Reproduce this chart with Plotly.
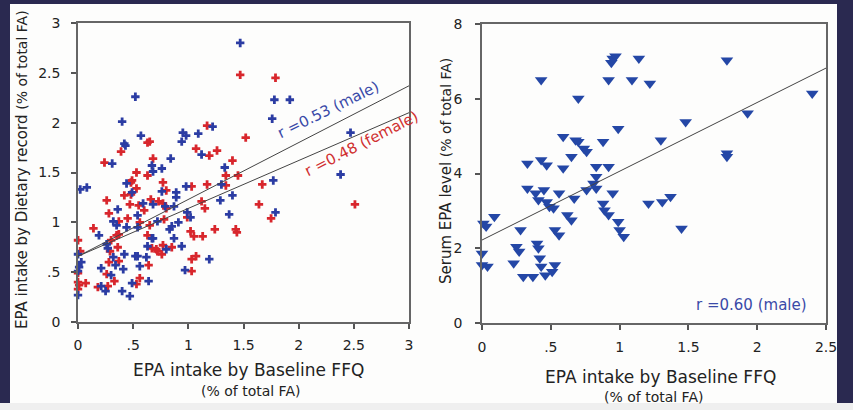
import plotly.graph_objects as go

# ---------------- data ----------------
male_ffq = [1.47,0.52,1.78,1.92,1.76,0.40,2.47,0.95,0.98,1.09,0.57,1.22,0.42,0.43,0.94,1.12,0.84,0.31,2.38,1.33,
            0.68,0.67,0.76,1.77,0.02,0.08,0.44,0.49,0.76,0.98,1.30,1.29,1.40,0.89,0.89,1.79,1.37,0.99,1.02,0.36,
            0.54,0.68,0.59,0.87,0.79,0.32,0.44,0.54,0.83,0.85,0.91,0.19,0.26,0.27,0.67,0.87,0.94,0.00,0.03,0.01,
            0.00,0.00,0.21,0.32,0.42,0.34,0.41,0.52,0.54,0.56,0.62,0.63,0.80,1.19,0.97,0.21,0.25,0.30,0.40,0.47,
            0.49,0.64,0.72,0.68,0.35]
male_diet = [2.80,2.26,2.23,2.23,2.04,2.01,1.90,1.90,1.87,1.89,1.87,1.96,1.79,1.77,1.81,1.68,1.64,1.59,1.48,1.55,
             1.51,1.57,1.54,1.42,1.33,1.35,1.39,1.30,1.31,1.36,1.38,1.22,1.27,1.30,1.25,1.10,1.08,1.10,1.05,1.13,
             1.07,1.18,1.19,1.16,1.16,1.01,0.95,0.95,0.93,0.96,1.00,0.87,0.78,0.74,0.84,0.84,0.76,0.68,0.60,0.55,
             0.51,0.27,0.54,0.65,0.68,0.57,0.53,0.66,0.66,0.56,0.65,0.76,0.73,0.63,0.52,0.36,0.31,0.47,0.31,0.26,
             0.39,0.41,1.01,0.84,0.97]

female_ffq = [1.47,1.79,1.52,1.17,0.39,0.63,0.65,1.07,1.19,1.26,1.40,0.24,0.68,0.53,0.63,1.34,1.45,0.49,0.48,0.77,
              1.17,1.34,1.67,1.03,0.26,0.42,0.47,0.55,0.60,0.66,0.73,0.77,0.80,1.12,1.15,1.64,1.75,2.51,0.28,0.37,
              0.14,0.56,0.65,0.78,1.02,1.24,1.43,1.44,1.05,1.13,0.00,0.30,0.29,0.37,0.36,0.02,0.67,0.71,0.76,0.72,
              0.85,1.03,1.07,0.37,0.28,0.26,0.00,0.00,0.01,0.00,0.07,0.18,0.27,0.33,0.53,0.56,0.64,1.03,0.35,0.77,
              0.63,0.99,0.80,0.53,0.48,0.45]
female_diet = [2.48,2.45,1.85,1.97,1.71,1.80,1.81,1.74,1.67,1.72,1.62,1.60,1.64,1.50,1.47,1.47,1.47,1.42,1.40,1.40,
               1.38,1.37,1.38,1.36,1.22,1.27,1.18,1.17,1.12,1.23,1.21,1.19,1.14,1.21,1.14,1.18,1.04,1.18,1.09,1.01,
               0.94,1.00,0.97,1.03,0.91,0.93,0.93,0.90,0.86,0.86,0.82,0.82,0.71,0.88,0.75,0.71,0.74,0.73,0.68,0.71,
               0.75,0.63,0.66,0.61,0.60,0.48,0.49,0.40,0.37,0.33,0.39,0.35,0.36,0.41,0.38,0.44,0.57,0.51,0.87,0.77,
               0.87,1.05,1.32,1.34,1.28,1.04]

serum_ffq = [0.43,0.70,0.95,0.97,0.94,1.14,0.92,1.09,1.22,1.78,2.40,1.93,1.48,0.99,1.30,1.78,1.78,0.59,0.68,0.70,
             0.88,0.74,0.76,0.65,0.43,0.47,0.33,0.59,0.83,0.92,0.83,0.81,0.76,0.83,0.33,0.39,0.45,0.41,0.47,0.49,
             0.52,0.56,0.67,0.95,0.88,0.89,0.92,0.62,0.65,1.21,1.31,1.37,1.45,0.99,1.00,1.03,0.53,0.56,0.28,0.25,
             0.27,0.23,0.40,0.41,0.42,0.43,0.30,0.37,0.46,0.51,0.53,0.01,0.03,0.09,0.00,0.00,0.04]
serum_epa = [6.50,6.01,7.08,7.14,6.96,7.08,6.50,6.50,6.41,7.03,6.14,5.61,5.38,5.20,4.89,4.54,4.45,4.98,4.89,4.85,
             4.85,4.67,4.58,4.45,4.36,4.22,4.27,4.14,4.18,4.18,3.91,3.73,3.56,3.60,3.60,3.47,3.56,3.29,3.24,3.11,
             3.07,3.47,3.33,3.47,3.20,3.02,2.89,2.89,2.75,3.20,3.24,3.38,2.53,2.71,2.49,2.31,2.49,2.35,2.49,2.04,
             1.91,1.60,2.13,2.00,1.73,1.51,1.24,1.24,1.28,1.37,1.55,2.66,2.58,2.84,1.86,1.55,1.51]

# regression lines (intercept, slope)
fit_male = (0.66, 0.57)
fit_female = (0.66, 0.48)
fit_serum = (2.22, 1.84)

left_ticks = [0, 0.5, 1, 1.5, 2, 2.5, 3]
left_ticktext = ["0", ".5", "1", "1.5", "2", "2.5", "3"]
right_xticks = [0, 0.5, 1, 1.5, 2, 2.5]
right_xticktext = ["0", ".5", "1", "1.5", "2", "2.5"]
right_yticks = [0, 2, 4, 6, 8]

assert len(male_ffq) == len(male_diet)
assert len(female_ffq) == len(female_diet)
assert len(serum_ffq) == len(serum_epa)

# ---------------- styles ----------------
W, H = 853, 410
FONT = "DejaVu Sans"
BLUE = "#2b3ca3"
RED = "#d8262c"
TRI = "#2447a6"
NAVY = "#2a2950"
LINE = "#444444"

def px(x):
    return x / W

def py(y):
    return 1 - y / H

fig = go.Figure()

fig.add_trace(go.Scatter(x=female_ffq, y=female_diet, mode="markers", xaxis="x", yaxis="y",
                         marker=dict(symbol="cross", size=7, color=RED), cliponaxis=False, showlegend=False))
fig.add_trace(go.Scatter(x=male_ffq, y=male_diet, mode="markers", xaxis="x", yaxis="y",
                         marker=dict(symbol="cross", size=7, color=BLUE), cliponaxis=False, showlegend=False))
for b0, b1 in (fit_male, fit_female):
    fig.add_trace(go.Scatter(x=[0, 3], y=[b0, b0 + 3 * b1], mode="lines", xaxis="x", yaxis="y",
                             line=dict(color=LINE, width=1), showlegend=False))

fig.add_trace(go.Scatter(x=serum_ffq, y=serum_epa, mode="markers", xaxis="x2", yaxis="y2",
                         marker=dict(symbol="triangle-down", size=11, color=TRI), cliponaxis=False,
                         showlegend=False))
fig.add_trace(go.Scatter(x=[0, 2.5], y=[fit_serum[0], fit_serum[0] + 2.5 * fit_serum[1]], mode="lines",
                         xaxis="x2", yaxis="y2", line=dict(color=LINE, width=1), showlegend=False))

axis_common = dict(showgrid=False, zeroline=False, showline=True, linecolor="#666666", linewidth=1.5,
                   mirror=True, ticks="outside", ticklen=5, tickcolor="#555555", tickwidth=1.5,
                   automargin=False,
                   tickfont=dict(family=FONT, size=14, color="#222222"), fixedrange=True)

fig.update_layout(
    width=W, height=H,
    margin=dict(l=0, r=0, t=0, b=0),
    paper_bgcolor=NAVY,
    plot_bgcolor="white",
    xaxis=dict(domain=[px(78), px(409)], range=[0, 3], tickvals=left_ticks, ticktext=left_ticktext,
               anchor="y", ticklabelstandoff=4, **axis_common),
    yaxis=dict(domain=[py(322), py(23)], range=[0, 3], tickvals=left_ticks, ticktext=left_ticktext,
               anchor="x", ticklabelstandoff=8, **axis_common),
    xaxis2=dict(domain=[px(482), px(826)], range=[0, 2.5], tickvals=right_xticks, ticktext=right_xticktext,
                anchor="y2", ticklabelstandoff=5, **axis_common),
    yaxis2=dict(domain=[py(323), py(24)], range=[0, 8], tickvals=right_yticks,
                anchor="x2", ticklabelstandoff=10, **axis_common),
)

# white panel behind the charts
fig.add_shape(type="rect", xref="paper", yref="paper", x0=px(10), x1=px(837), y0=0, y1=py(4),
              fillcolor="#fdfdfc", line=dict(width=0), layer="below")
fig.add_shape(type="rect", xref="paper", yref="paper", x0=0, x1=1, y0=0, y1=py(403),
              fillcolor="#efefef", line=dict(width=0), layer="below")

def note(x, y, text, size=17, color="#222222", angle=0):
    fig.add_annotation(x=px(x), y=py(y), xref="paper", yref="paper", text=text, showarrow=False,
                       textangle=angle, xanchor="center", yanchor="middle",
                       font=dict(family=FONT, size=size, color=color))

small = "<span style='font-size:14px'>(% of total FA)</span>"
# left chart titles
note(248, 370, "EPA intake by Baseline FFQ")
note(250, 391, "(% of total FA)", size=14)
note(22, 170, "EPA intake by Dietary record " + small, size=15, angle=-90)
# right chart titles
note(660, 377, "EPA intake by Baseline FFQ")
note(653, 397, "(% of total FA)", size=14)
note(446, 171, "Serum EPA level " + small, size=15, angle=-90)

# correlation labels
note(328, 110, "r =0.53 (male)", size=15, color="#3a4aa8", angle=-26)
note(361, 144, "r =0.48 (female)", size=15, color="#d03030", angle=-27)
note(751, 305, "r =0.60 (male)", size=15, color="#3a4aa8")

fig.write_html("out.html", config={"displayModeBar": False},
               post_script="document.body.style.margin='0';document.body.style.overflow='hidden';")
